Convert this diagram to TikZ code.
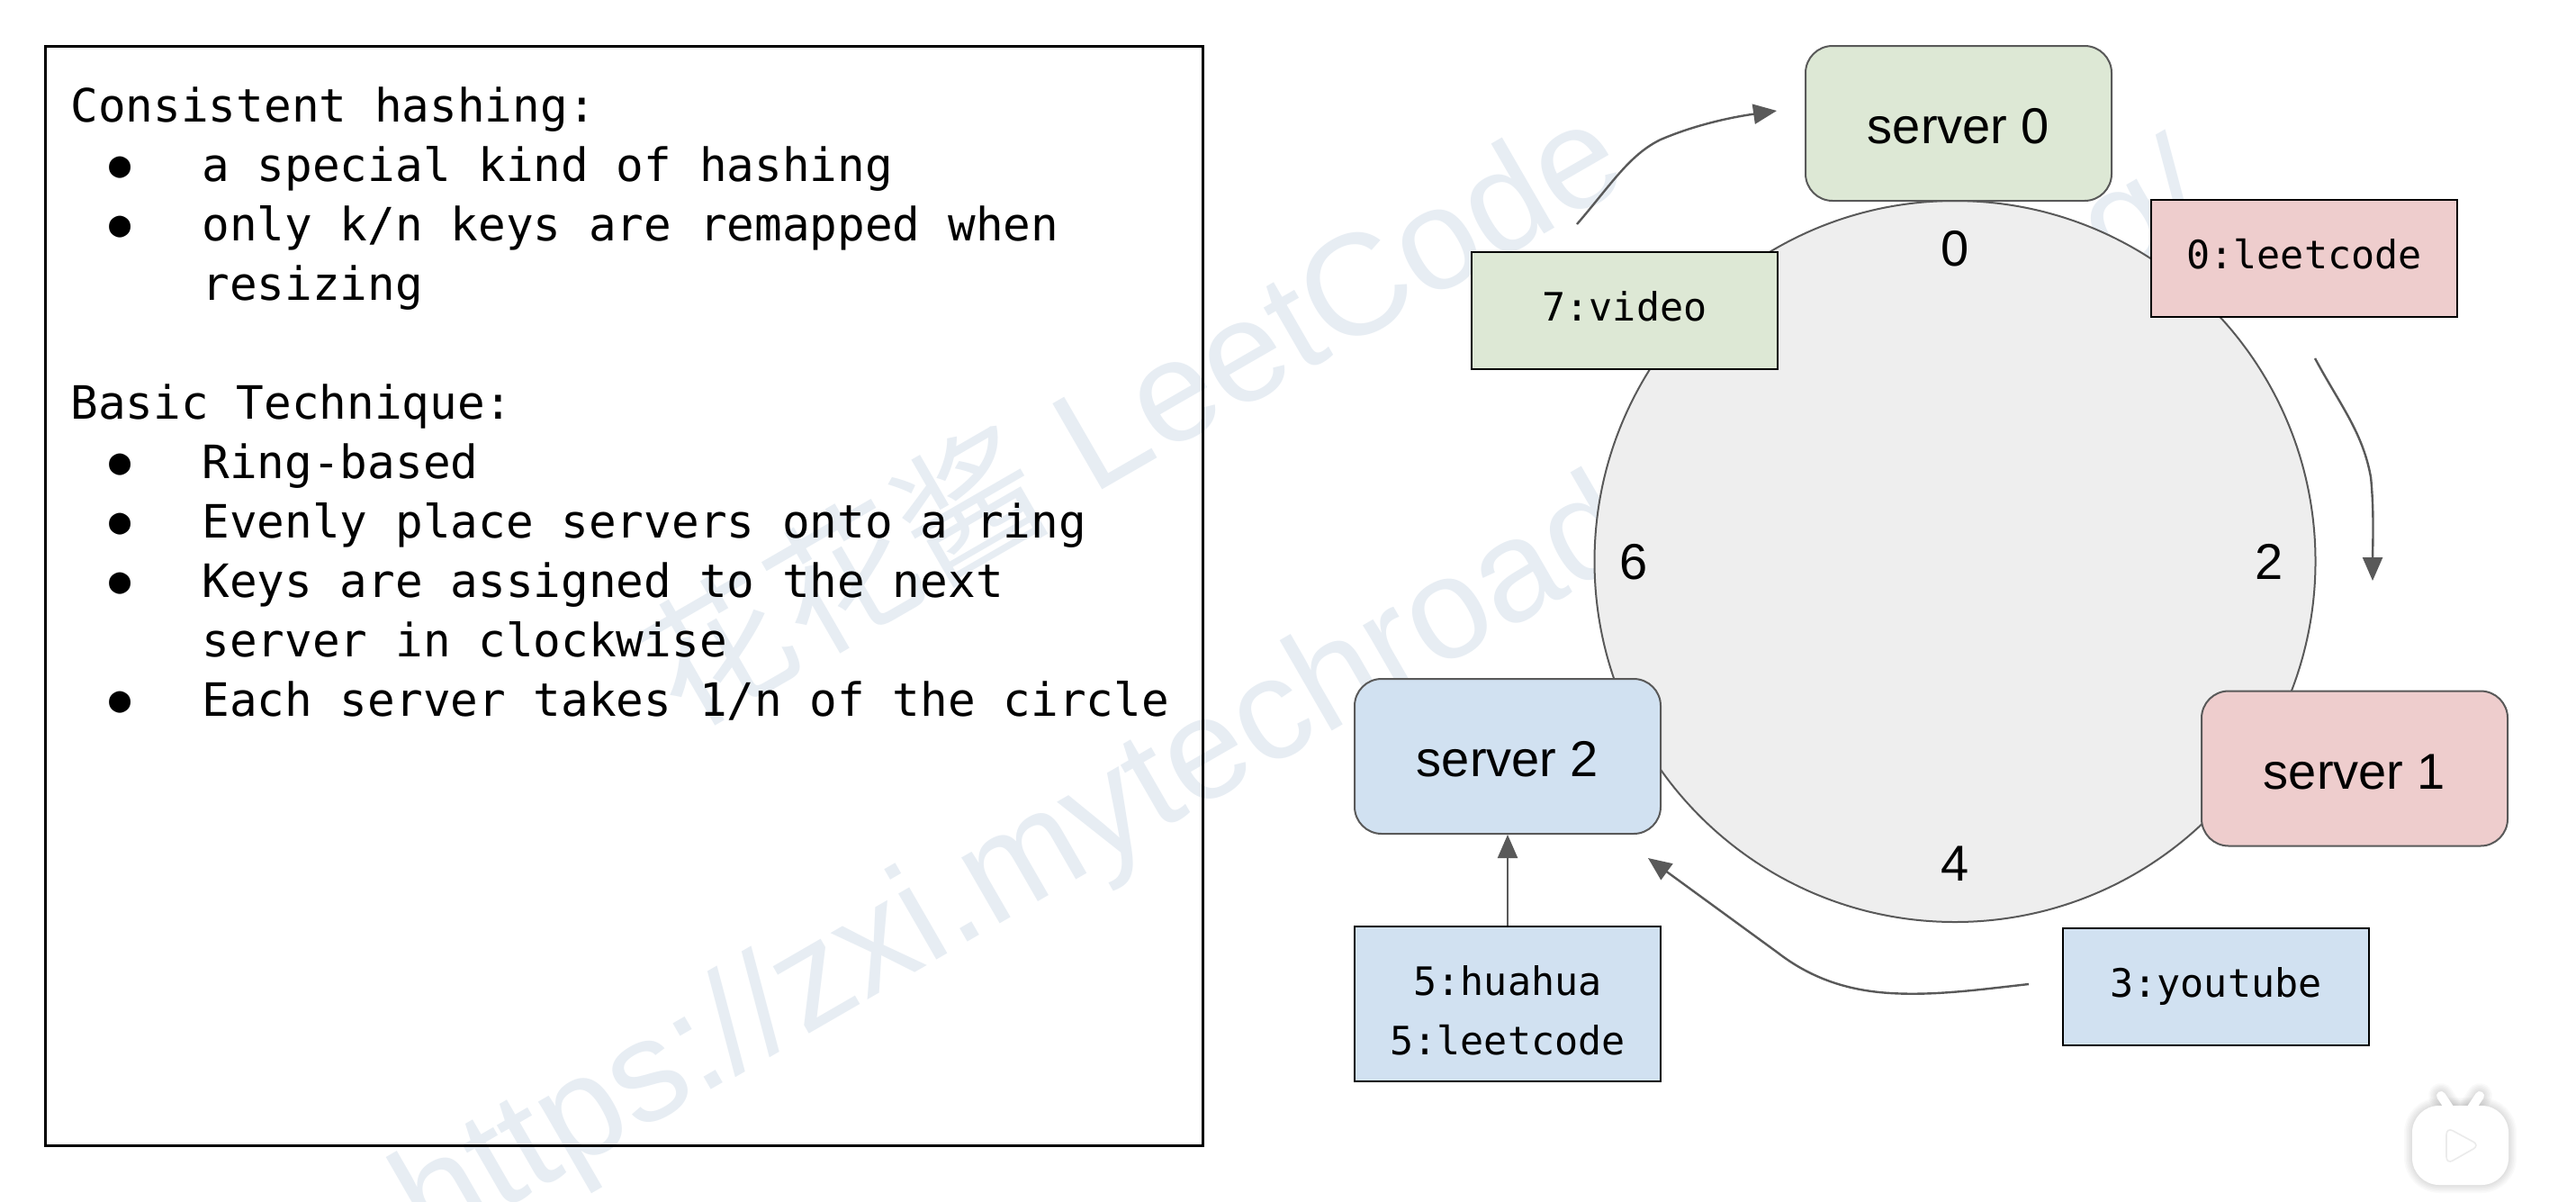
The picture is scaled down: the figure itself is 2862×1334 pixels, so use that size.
\documentclass[tikz,border=0pt]{standalone}
\usepackage{fontspec}
\setmainfont{Liberation Sans}
\setmonofont{DejaVu Sans Mono}
\newfontfamily\cjkfont{Noto Sans CJK SC}
\usetikzlibrary{arrows.meta}
\definecolor{edgegray}{HTML}{595959}
\definecolor{ringfill}{HTML}{EEEEEE}
\definecolor{greenfill}{HTML}{DDE8D5}
\definecolor{pinkfill}{HTML}{EECDCD}
\definecolor{bluefill}{HTML}{D1E1F1}
\definecolor{wmark}{HTML}{E7EDF3}
\newcommand{\bl}{\makebox[73pt][l]{\makebox[55pt][c]{\raisebox{2.5pt}{\fontsize{20pt}{33pt}\selectfont ●}}}}
\newcommand{\ind}{\hspace*{73pt}}
\newcommand{\badgepath}{(2712,1217) -- (2724,1235) (2755,1217) -- (2743,1235)}
\tikzset{
  server/.style={draw=edgegray,line width=1pt,rounded corners=15pt,minimum width=170pt,minimum height=86pt,inner sep=0pt,text height=22.8pt,text depth=0pt,font=\fontsize{28pt}{33pt}\selectfont},
  keybox/.style={draw=black,line width=1.4pt,minimum width=170pt,minimum height=65pt,inner sep=0pt,align=center,font=\ttfamily\fontsize{21.7pt}{33pt}\selectfont},
  onekey/.style={keybox,text height=16.5pt,text depth=5pt},
  ringnum/.style={inner sep=0pt,font=\fontsize{28pt}{33pt}\selectfont},
  link/.style={draw=edgegray,line width=1.2pt,-{Triangle[length=13pt,width=11pt]}},
  watermark/.style={text=wmark,rotate=30,inner sep=0pt,font=\fontsize{80pt}{90pt}\selectfont},
  badgeglow/.style={draw=black,draw opacity=0.018,line cap=round,line join=round,fill=none},
}
\begin{document}
\begin{tikzpicture}[x=0.5pt,y=-0.5pt]
\useasboundingbox (0,0) rectangle (2862,1334);
% watermark
\node[watermark] (wm1) at (1256,455) {{\cjkfont 花花酱} LeetCode};
\node[watermark] (wm2) at (1450,782) {https://zxi.mytechroad.com/blog/};
% left panel
\draw[black,line width=1.5pt] (50,51) rectangle (1336,1272);
\node[anchor=north west,inner sep=0pt,align=left,font=\ttfamily\fontsize{25.5pt}{33pt}\selectfont] (notes) at (78,96) {%
Consistent hashing:\\
\bl a special kind of hashing\\
\bl only k/n keys are remapped when\\
\ind resizing\\
\mbox{}\\
Basic Technique:\\
\bl Ring-based\\
\bl Evenly place servers onto a ring\\
\bl Keys are assigned to the next\\
\ind server in clockwise\\
\bl Each server takes 1/n of the circle};
% ring
\node[draw=edgegray,fill=ringfill,line width=1pt,circle,minimum size=400.5pt,inner sep=0pt] (ring) at (2172,623.5) {};
\node[ringnum] (n0) at (2172,276) {0};
\node[ringnum] (n2) at (2521,624) {2};
\node[ringnum] (n4) at (2172,959) {4};
\node[ringnum] (n6) at (1815,624) {6};
% servers
\node[server,fill=greenfill] (s0) at (2176,137) {server 0};
\node[server,fill=pinkfill] (s1) at (2616,853.5) {server 1};
\node[server,fill=bluefill] (s2) at (1675,840) {server 2};
% keys
\node[onekey,fill=greenfill] (kvideo) at (1805,345) {7:video};
\node[onekey,fill=pinkfill] (kleet) at (2560,287) {0:leetcode};
\node[onekey,fill=bluefill] (kyou) at (2462,1096) {3:youtube};
\node[keybox,fill=bluefill,minimum height=86pt] (khua) at (1675,1115) {\rule{0pt}{23.5pt}5:huahua\\5:leetcode};
% arrow ends
\coordinate (a1s) at (1752,249);
\coordinate (a1e) at (1974,123);
\coordinate (a2s) at (2572,398);
\coordinate (a2e) at (2636,645);
\coordinate (a3s) at (2254,1093);
\coordinate (a3e) at (1831,953);
\draw[link] (a1s) .. controls (1790,205) and (1810,172) .. (1845,155) .. controls (1885,138) and (1925,130) .. (a1e);
\draw[link] (a2s) .. controls (2600,450) and (2625,480) .. (2634,530) .. controls (2638,570) and (2636,610) .. (a2e);
\draw[link] (a3s) .. controls (2200,1099) and (2150,1106) .. (2100,1103) .. controls (2050,1100) and (2010,1085) .. (1975,1058) -- (a3e);
\draw[link] (khua) -- (s2);
% corner badge: soft shadow, then white body
\foreach \w in {9,7.5,6,4.5,3,1.5}{
  \draw[badgeglow,line width=\w pt,rounded corners=15pt] (2680,1228) rectangle (2787,1316);
  \draw[badgeglow,line width=\w pt+5pt] \badgepath;
}
\draw[white,line width=5pt,line cap=round] \badgepath;
\fill[white,rounded corners=15pt] (2680,1228) rectangle (2787,1316);
\draw[draw=black!8,fill=white,rounded corners=4pt,line width=0.8pt] (2718,1252) -- (2718,1293) -- (2755,1272) -- cycle;
\end{tikzpicture}
\end{document}
